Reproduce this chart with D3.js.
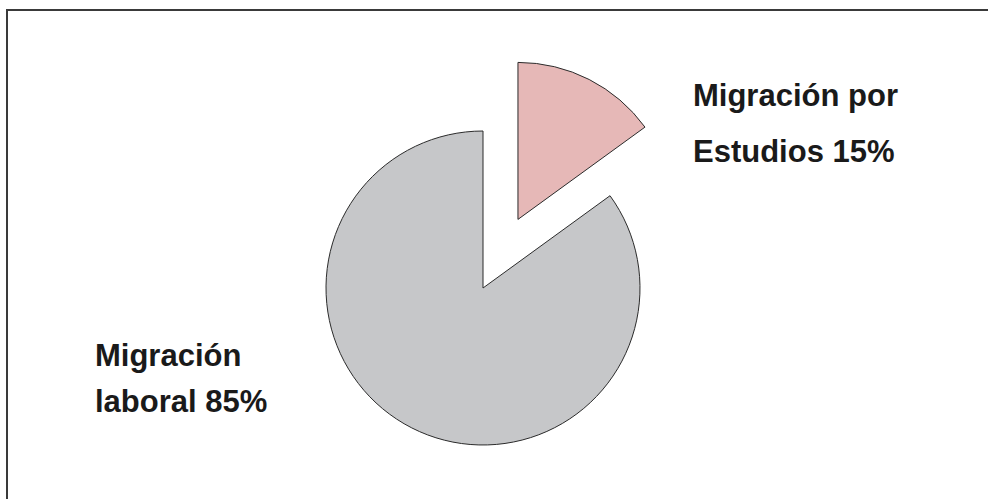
<!DOCTYPE html>
<html>
<head>
<meta charset="utf-8">
<script src="https://cdn.jsdelivr.net/npm/d3@7"></script>
<style>
  html, body { margin: 0; padding: 0; background: #fff; }
  svg { display: block; }
  .lbl { font-family: "Liberation Sans", Arial, sans-serif; font-weight: bold; font-size: 31px; fill: #1a1a1a; }
</style>
</head>
<body>
<svg id="chart" width="988" height="499"></svg>
<script>
// Migration motives, in percent
const categories = ["Migración por Estudios", "Migración laboral"];
const values = [15, 85];
const colors = ["#e6b8b7", "#c6c7c9"];
const labelLines = [["Migración por", "Estudios 15%"], ["Migración", "laboral 85%"]];

const width = 988, height = 499;
const cx = 483, cy = 288, radius = 157, explode = 77;

const svg = d3.select("#chart");

// Outer frame
svg.append("rect")
  .attr("x", 7).attr("y", 10)
  .attr("width", width + 20).attr("height", height + 20)
  .attr("fill", "none")
  .attr("stroke", "#3a3a3a")
  .attr("stroke-width", 2);

const pie = d3.pie().sort(null).value(d => d)
  .startAngle(0).endAngle(2 * Math.PI);
const arcs = pie(values);
const arc = d3.arc().innerRadius(0).outerRadius(radius);

const g = svg.append("g").attr("transform", `translate(${cx},${cy})`);

g.selectAll("path")
  .data(arcs)
  .join("path")
  .attr("d", arc)
  .attr("fill", (d, i) => colors[i])
  .attr("stroke", "#2b2b2b")
  .attr("stroke-width", 1)
  .attr("stroke-linejoin", "miter")
  .attr("transform", (d, i) => {
    if (i !== 0) return null;
    const mid = (d.startAngle + d.endAngle) / 2;
    return `translate(${explode * Math.sin(mid)},${-explode * Math.cos(mid)})`;
  });

// Category labels
const labelPos = [
  { x: 693, y: 106, dy: 56 },
  { x: 95, y: 366, dy: 46 }
];
labelLines.forEach((lines, i) => {
  const t = svg.append("text").attr("class", "lbl")
    .attr("x", labelPos[i].x).attr("y", labelPos[i].y);
  lines.forEach((line, j) => {
    t.append("tspan")
      .attr("x", labelPos[i].x)
      .attr("y", labelPos[i].y + j * labelPos[i].dy)
      .text(line);
  });
});
</script>
</body>
</html>
